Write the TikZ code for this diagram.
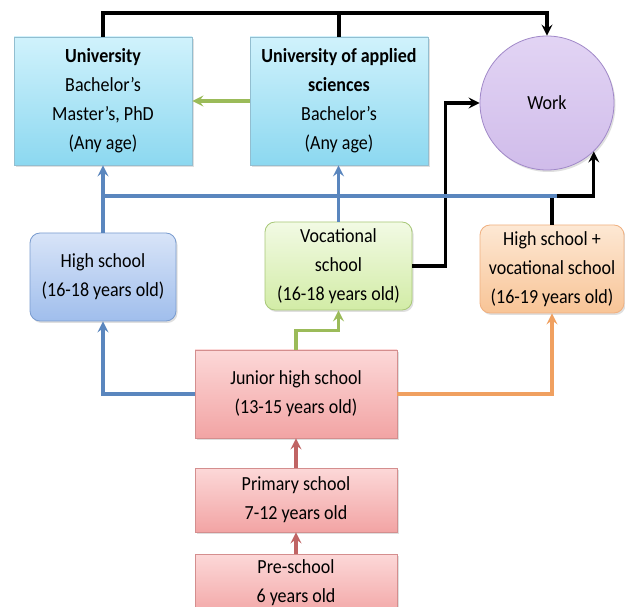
\documentclass[tikz,border=0pt]{standalone}
\usepackage{fontspec}
\setmainfont{Carlito}[FakeStretch=0.9]
\usetikzlibrary{arrows.meta,shadows,calc}
\definecolor{bluL}{HTML}{5A86BE}
\definecolor{grnL}{HTML}{9BBB59}
\definecolor{orgL}{HTML}{F0A060}
\definecolor{redL}{HTML}{C06464}
\tikzset{
  base/.style={draw, line width=0.8pt, align=center, inner sep=0pt,
    font=\fontsize{20}{29}\selectfont,
    drop shadow={shadow xshift=1.5pt, shadow yshift=-2pt, opacity=0.25}},
  unibox/.style={base, minimum width=178pt, minimum height=128pt,
    draw=cyan!45!gray!70, top color={rgb,255:red,208;green,242;blue,252}, bottom color={rgb,255:red,140;green,216;blue,240}},
  hsbox/.style={base, rounded corners=10pt, minimum width=146pt, minimum height=88pt,
    draw={rgb,255:red,122;green,156;blue,207}, top color={rgb,255:red,216;green,228;blue,248}, bottom color={rgb,255:red,160;green,190;blue,236}},
  vocbox/.style={base, rounded corners=10pt, minimum width=147pt, minimum height=88pt,
    draw={rgb,255:red,168;green,200;blue,120}, top color={rgb,255:red,242;green,250;blue,228}, bottom color={rgb,255:red,210;green,236;blue,166}},
  hsvbox/.style={base, rounded corners=10pt, minimum width=144pt, minimum height=88pt,
    draw={rgb,255:red,240;green,176;blue,128}, top color={rgb,255:red,253;green,232;blue,212}, bottom color={rgb,255:red,248;green,196;blue,150}},
  pinkbox/.style={base, minimum width=202pt,
    draw={rgb,255:red,212;green,142;blue,142}, top color={rgb,255:red,252;green,216;blue,216}, bottom color={rgb,255:red,242;green,164;blue,164}},
  workc/.style={base, circle, minimum size=134pt,
    draw={rgb,255:red,160;green,136;blue,200}, top color={rgb,255:red,226;green,212;blue,244}, bottom color={rgb,255:red,208;green,188;blue,234}},
  conn/.style={line width=3.2pt},
  tip/.style={-{Stealth[length=11pt,width=11pt,inset=4pt]}},
}
\begin{document}
\begin{tikzpicture}[x=1pt,y=-1pt]
\useasboundingbox (0,0) rectangle (625,607);
\clip (0,0) rectangle (625,607);
\fill[white] (0,0) rectangle (625,607);
% nodes
\node[unibox] (uni) at (103,101) {\textbf{University}\\Bachelor’s\\Master’s, PhD\\(Any age)};
\node[unibox] (uas) at (339,101) {\textbf{University of applied}\\\textbf{sciences}\\Bachelor’s\\(Any age)};
\node[workc] (work) at (547,103) {Work};
\node[hsbox] (hs) at (103,277) {High school\\(16-18 years old)};
\node[vocbox] (voc) at (338.5,266) {Vocational\\school\\(16-18 years old)};
\node[hsvbox] (hsv) at (552,269) {High school +\\vocational school\\(16-19 years old)};
\node[pinkbox, minimum height=88pt] (jh) at (296,394) {Junior high school\\(13-15 years old)};
\node[pinkbox, minimum height=64pt] (pr) at (296,500) {Primary school\\7-12 years old};
\node[pinkbox, minimum height=64pt, text depth=10pt] (pre) at (296,586) {Pre-school\\6 years old};
% helper coordinates
\coordinate (topY) at (0,13);
\coordinate (midY) at (0,196);
\coordinate (blueEnd) at (557,196);
% black connectors
\draw[conn, tip] (uni.north) -- (uni.north |- topY) -| (work.north);
\draw[conn] (uas.north) -- (uas.north |- topY);
\draw[conn, tip] (voc.east) -- ++(33,0) |- (work.west);
\draw[conn, tip] (hsv.north) -- (hsv.north |- midY) -| (work.-46.6);
% blue connectors
\draw[conn, bluL] (hs.north) -- (hs.north |- midY) -- (blueEnd);
\draw[conn, bluL, tip] (hs.north |- midY) -- (uni.south);
\draw[conn, bluL, tip] (voc.north) -- (voc.north |- uas.south);
\draw[conn, bluL, tip] (jh.west) -| (hs.south);
% green connectors
\draw[conn, grnL, tip] (uas.west) -- (uni.east);
\draw[conn, grnL, tip] (jh.north) -- ++(0,-19) -| (voc.south);
% orange
\draw[conn, orgL, tip] (jh.east) -| (hsv.south);
% red
\draw[conn, redL, tip] (pr.north) -- (jh.south);
\draw[conn, redL, tip] (pre.north) -- (pr.south);
\end{tikzpicture}
\end{document}
